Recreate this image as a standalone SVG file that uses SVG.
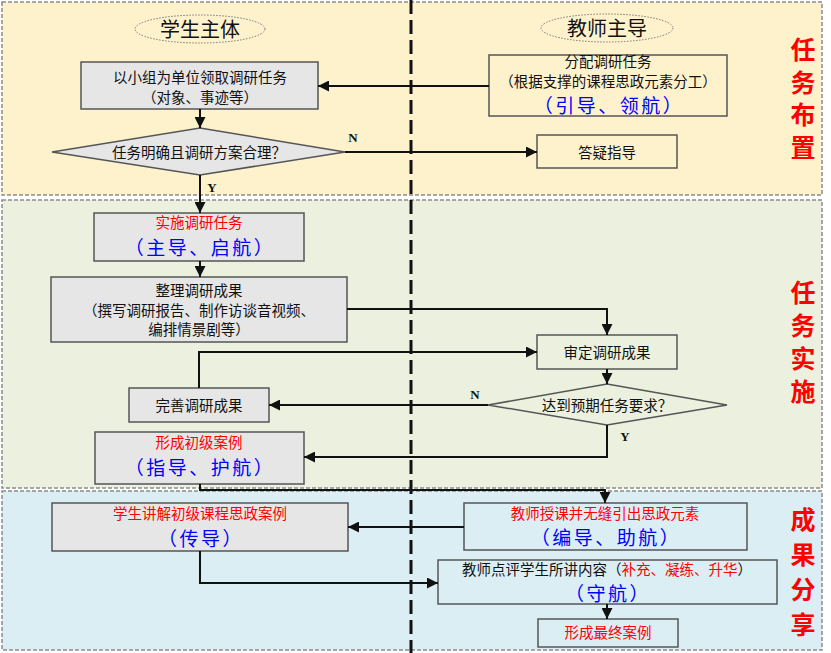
<svg xmlns="http://www.w3.org/2000/svg" width="831" height="653" viewBox="0 0 831 653">
<style>
text{font-family:"Noto Sans CJK SC","Noto Sans",sans-serif;text-anchor:middle}
.t{font-size:14.5px;fill:#111}
.r{font-size:14.5px;fill:#ff0000}
.b{font-size:19px;fill:#0000ff;letter-spacing:2.5px}
.h{font-size:20px;fill:#111}
.s{font-size:25px;fill:#ff0000;font-weight:bold;writing-mode:vertical-rl;text-orientation:upright}
.yn{font-family:"Liberation Serif",serif;font-size:13px;font-weight:bold;fill:#111}
.box{fill:#e6e6e6;stroke:#555;stroke-width:1.5}
.obox{fill:none;stroke:#555;stroke-width:1.5}
.band{stroke:#8c8c8c;stroke-width:1.5;stroke-dasharray:4 2}
.c{fill:none;stroke:#111;stroke-width:2}
</style>
<defs>
<marker id="ah" viewBox="0 0 10 10" refX="10" refY="5" markerWidth="5.5" markerHeight="5.5" orient="auto" markerUnits="strokeWidth">
<path d="M0,0 L10,5 L0,10 z" fill="#111"/>
</marker>
</defs>
<g id="bands">
<rect class="band" x="2" y="2" width="820" height="193" fill="#fef2cd"/>
<rect class="band" x="2" y="200" width="820" height="288" fill="#ebf1de"/>
<rect class="band" x="2" y="491" width="820" height="159" fill="#dbeef4"/>
</g>
<line x1="411" y1="0" x2="411" y2="653" stroke="#111" stroke-width="3" stroke-dasharray="14 6"/>
<g id="phase-labels">
<text class="s" x="803" y="37" style="text-anchor:start;letter-spacing:7.5px">任务布置</text>
<text class="s" x="803" y="280" style="text-anchor:start;letter-spacing:8px">任务实施</text>
<text class="s" x="803" y="507" style="text-anchor:start;letter-spacing:10px">成果分享</text>
</g>
<g id="hdr-student">
<ellipse cx="200" cy="29" rx="65" ry="14" fill="none" stroke="#777" stroke-width="1" stroke-dasharray="1.5 1.5"/>
<text class="h" x="200" y="36.5">学生主体</text>
</g>
<g id="hdr-teacher">
<ellipse cx="607" cy="28" rx="66" ry="14" fill="none" stroke="#777" stroke-width="1" stroke-dasharray="1.5 1.5"/>
<text class="h" x="607" y="35.5">教师主导</text>
</g>
<g id="n-claim">
<rect class="box" x="81" y="62" width="237" height="47"/>
<text class="t" x="200" y="82.5">以小组为单位领取调研任务</text>
<text class="t" x="200" y="102.5">（对象、事迹等）</text>
</g>
<g id="n-assign">
<rect class="obox" x="489" y="55" width="238" height="61"/>
<text class="t" x="608" y="67">分配调研任务</text>
<text class="t" x="608" y="86.5">（根据支撑的课程思政元素分工）</text>
<text class="b" x="609" y="113">（引导、领航）</text>
</g>
<g id="n-check1">
<polygon points="52,152 200,128 345,152 200,175" fill="#e6e6e6" stroke="#555" stroke-width="1.5"/>
<text class="t" x="199" y="157.5">任务明确且调研方案合理？</text>
</g>
<g id="n-answer">
<rect class="obox" x="537" y="135" width="140" height="33"/>
<text class="t" x="607" y="157.5">答疑指导</text>
</g>
<g id="n-implement">
<rect class="box" x="94" y="213" width="210" height="48"/>
<text class="r" x="199" y="228">实施调研任务</text>
<text class="b" x="200" y="255">（主导、启航）</text>
</g>
<g id="n-organize">
<rect class="box" x="51" y="277" width="296" height="65"/>
<text class="t" x="199" y="295.5">整理调研成果</text>
<text class="t" x="199" y="315.5">（撰写调研报告、制作访谈音视频、</text>
<text class="t" x="199" y="334.5">编排情景剧等）</text>
</g>
<g id="n-review">
<rect class="obox" x="537" y="335" width="140" height="34"/>
<text class="t" x="607" y="357.5">审定调研成果</text>
</g>
<g id="n-improve">
<rect class="box" x="129" y="388" width="140" height="34"/>
<text class="t" x="199" y="410.5">完善调研成果</text>
</g>
<g id="n-check2">
<polygon points="488,405 607,384 727,405 607,425" fill="none" stroke="#555" stroke-width="1.5"/>
<text class="t" x="607" y="410.5">达到预期任务要求？</text>
</g>
<g id="n-initial">
<rect class="box" x="95" y="432" width="209" height="52"/>
<text class="r" x="199" y="447.5">形成初级案例</text>
<text class="b" x="200" y="474.5">（指导、护航）</text>
</g>
<g id="n-teach">
<rect class="obox" x="464" y="503" width="283" height="47"/>
<text class="r" x="605" y="518.5">教师授课并无缝引出思政元素</text>
<text class="b" x="606" y="545">（编导、助航）</text>
</g>
<g id="n-explain">
<rect class="box" x="52" y="503" width="296" height="48"/>
<text class="r" x="200" y="518.5">学生讲解初级课程思政案例</text>
<text class="b" x="201" y="545.5">（传导）</text>
</g>
<g id="n-comment">
<rect class="obox" x="438" y="560" width="339" height="44"/>
<text class="t" x="607" y="574.5">教师点评学生所讲内容（<tspan fill="#ff0000">补充、凝练、升华</tspan>）</text>
<text class="b" x="608" y="601">（守航）</text>
</g>
<g id="n-final">
<rect class="obox" x="538" y="619" width="140" height="28"/>
<text class="r" x="608" y="637.5">形成最终案例</text>
</g>
<g id="connectors">
<path class="c" d="M489,86 L318,86" marker-end="url(#ah)"/>
<path class="c" d="M200,109 L200,128" marker-end="url(#ah)"/>
<path class="c" d="M345,152 L537,152" marker-end="url(#ah)"/>
<path class="c" d="M200,175 L200,213" marker-end="url(#ah)"/>
<path class="c" d="M200,261 L200,277" marker-end="url(#ah)"/>
<path class="c" d="M347,309 L607,309 L607,335" marker-end="url(#ah)"/>
<path class="c" d="M199,388 L199,352 L537,352" marker-end="url(#ah)"/>
<path class="c" d="M607,369 L607,384" marker-end="url(#ah)"/>
<path class="c" d="M488,405 L269,405" marker-end="url(#ah)"/>
<path class="c" d="M607,425 L607,457 L304,457" marker-end="url(#ah)"/>
<path class="c" d="M200,484 L200,490 L605,490 L605,503" marker-end="url(#ah)"/>
<path class="c" d="M464,527 L348,527" marker-end="url(#ah)"/>
<path class="c" d="M200,551 L200,583 L438,583" marker-end="url(#ah)"/>
<path class="c" d="M607,604 L607,619" marker-end="url(#ah)"/>
</g>
<g id="labels">
<text class="yn" x="353" y="142">N</text>
<text class="yn" x="212" y="192">Y</text>
<text class="yn" x="475" y="399">N</text>
<text class="yn" x="625" y="441">Y</text>
</g>
</svg>
